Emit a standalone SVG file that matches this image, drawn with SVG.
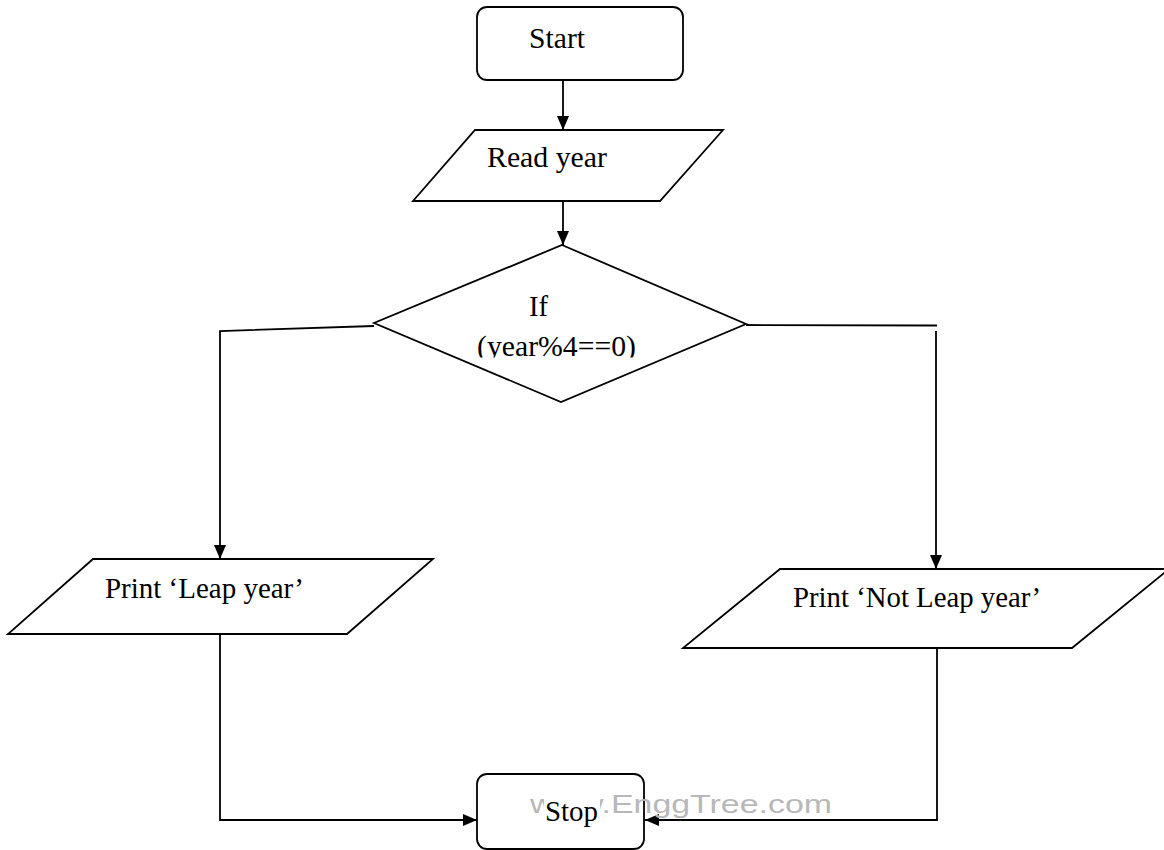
<svg xmlns="http://www.w3.org/2000/svg" width="1164" height="850" viewBox="0 0 1164 850">
<style>
.shape{fill:#ffffff;stroke:#000000;stroke-width:1.8}
.line{fill:none;stroke:#000000;stroke-width:1.8}
.lbl{font-family:"Liberation Serif","Times New Roman",serif;font-size:29px;fill:#000000}
.wm{font-family:"Liberation Sans",Arial,sans-serif;font-size:26px;fill:#b8b8b8}
</style>
<defs>
<marker id="arrow" markerUnits="userSpaceOnUse" markerWidth="14" markerHeight="12" refX="14" refY="6" orient="auto">
<path d="M0,0 L14,6 L0,12 z" fill="#000000"/>
</marker>
<clipPath id="clipCond"><rect x="400" y="280" width="320" height="77.5"/></clipPath>
</defs>
<rect width="1164" height="850" fill="#ffffff"/>
<g id="connectors">
<line class="line" x1="563" y1="80" x2="563" y2="130" marker-end="url(#arrow)"/>
<line class="line" x1="563" y1="201" x2="563" y2="245" marker-end="url(#arrow)"/>
<polyline class="line" points="374,326 220,331 220,559" marker-end="url(#arrow)"/>
<line class="line" x1="746" y1="325" x2="937" y2="325.5"/>
<line class="line" x1="936" y1="331" x2="936" y2="569" marker-end="url(#arrow)"/>
<polyline class="line" points="220,634 220,820 477,820" marker-end="url(#arrow)"/>
<polyline class="line" points="937,635 937,820 645,820" marker-end="url(#arrow)"/>
</g>
<g id="start">
<rect class="shape" x="477" y="7" width="206" height="73" rx="10"/>
<text class="lbl" x="529" y="48" textLength="56" lengthAdjust="spacingAndGlyphs">Start</text>
</g>
<g id="read">
<polygon class="shape" points="475,130 723,130 660,201 413,201"/>
<text class="lbl" x="487" y="167" textLength="120" lengthAdjust="spacingAndGlyphs">Read year</text>
</g>
<g id="decision">
<polygon class="shape" points="562,245 746,324 561,402 374,323"/>
<text class="lbl" x="529" y="316" textLength="19" lengthAdjust="spacingAndGlyphs">If</text>
<text class="lbl" x="477" y="356" textLength="159" lengthAdjust="spacingAndGlyphs" clip-path="url(#clipCond)">(year%4==0)</text>
</g>
<g id="print-leap">
<polygon class="shape" points="93,559 433,559 347,634 8,634"/>
<text class="lbl" x="105" y="598" textLength="199" lengthAdjust="spacingAndGlyphs">Print ‘Leap year’</text>
</g>
<g id="print-not-leap">
<polygon class="shape" points="780,569 1169,569 1072,648 683,648"/>
<text class="lbl" x="793" y="607" textLength="248" lengthAdjust="spacingAndGlyphs">Print ‘Not Leap year’</text>
</g>
<g id="stop">
<rect class="shape" x="477" y="774" width="167" height="75" rx="10"/>
<text class="wm" x="530" y="813" textLength="302" lengthAdjust="spacingAndGlyphs">www.EnggTree.com</text>
<rect x="544" y="789" width="56" height="42" fill="#ffffff"/>
<text class="lbl" x="545" y="821" textLength="53" lengthAdjust="spacingAndGlyphs">Stop</text>
</g>
</svg>
